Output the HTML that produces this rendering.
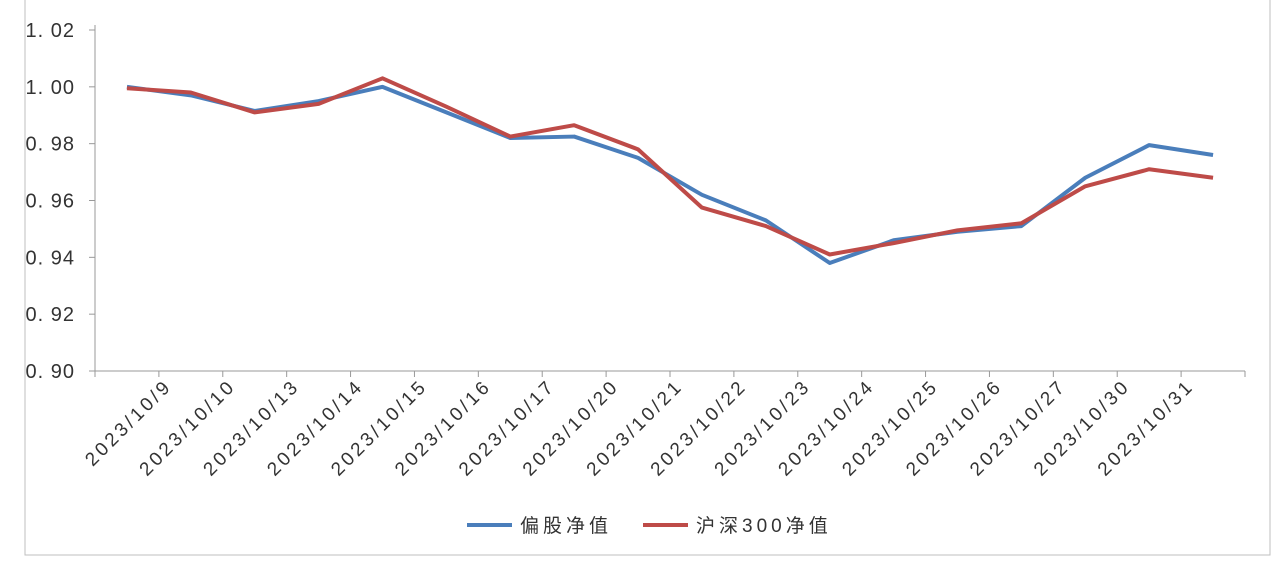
<!DOCTYPE html>
<html><head><meta charset="utf-8"><style>
body{margin:0;background:#fff;}
svg{display:block;font-family:"Liberation Sans","Noto Sans CJK SC",sans-serif;}
</style></head><body>
<svg id="chart" width="1280" height="563">
<rect x="25" y="-1" width="1245" height="556" fill="#fff" stroke="#bfbfbf"/>
<g id="axes"></g><g id="series"></g>
<g>
<line x1="467" y1="525" x2="512" y2="525" stroke="#4a7ebb" stroke-width="4"/>
<text x="520" y="532" font-size="19" letter-spacing="4" fill="#333">偏股净值</text>
<line x1="643" y1="525" x2="688" y2="525" stroke="#be4b48" stroke-width="4"/>
<text x="696" y="532" font-size="19" letter-spacing="4" fill="#333">沪深300净值</text>
</g>
</svg>
<script>
const categories=["2023/10/9","2023/10/10","2023/10/13","2023/10/14","2023/10/15","2023/10/16","2023/10/17","2023/10/20","2023/10/21","2023/10/22","2023/10/23","2023/10/24","2023/10/25","2023/10/26","2023/10/27","2023/10/30","2023/10/31"];
const xLabels=["2023/10/9","2023/10/10","2023/10/13","2023/10/14","2023/10/15","2023/10/16","2023/10/17","2023/10/20","2023/10/21","2023/10/22","2023/10/23","2023/10/24","2023/10/25","2023/10/26","2023/10/27","2023/10/30","2023/10/31"];
const fundValues=[1.000,0.997,0.9915,0.995,1.000,0.991,0.982,0.9825,0.975,0.962,0.953,0.938,0.946,0.949,0.951,0.968,0.9795,0.976];
const csiValues=[0.9995,0.998,0.991,0.994,1.003,0.993,0.9825,0.9865,0.978,0.9575,0.951,0.941,0.945,0.9495,0.952,0.965,0.971,0.968];
const yTicks=[0.90,0.92,0.94,0.96,0.98,1.00,1.02];
const yTickLabels=["0. 90","0. 92","0. 94","0. 96","0. 98","1. 00","1. 02"];
const NS="http://www.w3.org/2000/svg";
const L=95,R=1245,T=30,B=371,yMin=0.90,yMax=1.02;
const n=fundValues.length,step=(R-L)/n;
const x=i=>L+step*(i+0.5);
const y=v=>B-(v-yMin)/(yMax-yMin)*(B-T);
function mk(tag,attrs,parent){const e=document.createElementNS(NS,tag);for(const k in attrs)e.setAttribute(k,attrs[k]);parent.appendChild(e);return e;}
const ax=document.getElementById('axes'),se=document.getElementById('series');
let e=mk('line',{x1:L,y1:T-5,x2:L,y2:B,stroke:'#999'},ax);


e=mk('line',{x1:L,y1:B,x2:R,y2:B,stroke:'#999'},ax);


yTicks.forEach((v,i)=>{
 mk('line',{x1:L-6,y1:y(v),x2:L,y2:y(v),stroke:'#999'},ax);
 const t=mk('text',{x:L-20,y:y(v)+7,'font-size':20,'letter-spacing':1,'text-anchor':'end',fill:'#333'},ax);
 t.textContent=yTickLabels[i];
 
 
});
for(let i=0;i<=n;i++){mk('line',{x1:L+step*i,y1:B,x2:L+step*i,y2:B+6,stroke:'#999'},ax);}
xLabels.forEach((s,i)=>{
 const cx=x(i)+46,cy=B+16;
 const t=mk('text',{x:cx,y:cy,'font-size':19,'letter-spacing':3.2,'text-anchor':'end',fill:'#333',transform:`rotate(-45 ${cx} ${cy})`},ax);
 t.textContent=s;
 
 
});
function line(vals,color,name){
 const p=mk('polyline',{points:vals.map((v,i)=>x(i)+','+y(v)).join(' '),fill:'none',stroke:color,'stroke-width':4,'stroke-linejoin':'round'},se);
 
 
}
line(fundValues,'#4a7ebb','series-fund-nav');
line(csiValues,'#be4b48','series-csi300-nav');
</script>
</body></html>
